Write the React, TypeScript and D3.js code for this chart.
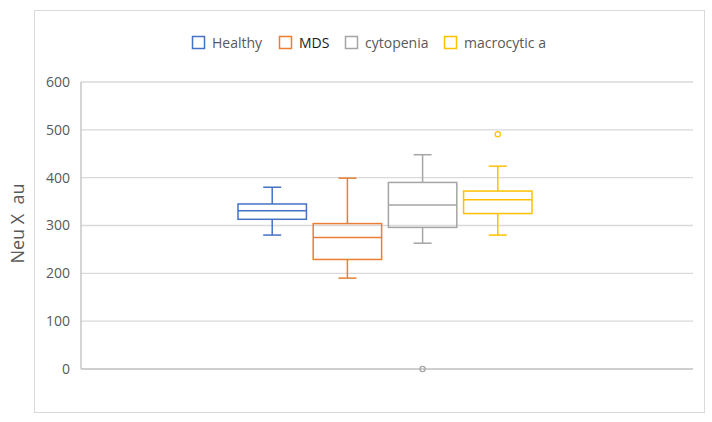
import React from "react";
import * as d3 from "d3";

const series = ["Healthy", "MDS", "cytopenia", "macrocytic a"];
const colors = ["#4472c4", "#ed7d31", "#a5a5a5", "#ffc000"];
const legendTextColors = ["#595959", "#1a1a1a", "#595959", "#595959"];
// [lower whisker, q1, median, q3, upper whisker]
const stats = [
  [280, 313, 331, 345, 380],
  [190, 229, 275, 304, 399],
  [263, 296, 343, 390, 448],
  [280, 325, 354, 372, 424],
];
const outliers = [[], [], [0], [491]];
const yTicks = [0, 100, 200, 300, 400, 500, 600];

const W = 712;
const H = 422;
const plot = { left: 81, right: 693, top: 82, bottom: 369 };
const font = "'Open Sans', 'Liberation Sans', sans-serif";

export default function App() {
  const y = d3.scaleLinear().domain([0, 600]).range([plot.bottom, plot.top]);
  const mid = (plot.left + plot.right) / 2 - 2;
  const x = d3
    .scaleBand<string>()
    .domain(series)
    .range([mid - 147, mid + 147])
    .paddingInner(0.09)
    .paddingOuter(0.0);
  const bw = x.bandwidth();
  const capW = 18;

  // legend square positions
  const legendX = [192, 279, 345, 444];

  return (
    <svg
      width={W}
      height={H}
      style={{ position: "absolute", left: 0, top: 0, background: "#fff" }}
    >
      <rect x={34.5} y={10.5} width={670} height={402} fill="#fff" stroke="#d9d9d9" />

      {yTicks.map((t) => (
        <g key={t}>
          <line
            x1={plot.left}
            x2={plot.right}
            y1={y(t)}
            y2={y(t)}
            stroke={t === 0 ? "#bfbfbf" : "#d9d9d9"}
            strokeWidth={1.3}
          />
          <text
            x={70}
            y={y(t)}
            dy="0.35em"
            textAnchor="end"
            fontFamily={font}
            fontSize={14}
            fill="#595959"
          >
            {t}
          </text>
        </g>
      ))}
      <line x1={plot.left} x2={plot.left} y1={plot.top} y2={plot.bottom} stroke="#bfbfbf" strokeWidth={1.3} />

      <text
        transform={`translate(24,${(plot.top + plot.bottom) / 2 - 2}) rotate(-90)`}
        textAnchor="middle"
        fontFamily={font}
        fontSize={18}
        fill="#595959"
        style={{ whiteSpace: "pre" }}
      >
        {"Neu X  au"}
      </text>

      {series.map((s, i) => {
        const [lo, q1, med, q3, hi] = stats[i];
        const x0 = x(s)!;
        const cx = x0 + bw / 2;
        const c = colors[i];
        return (
          <g key={s} stroke={c} strokeWidth={1.5} fill="none">
            <line x1={cx} x2={cx} y1={y(hi)} y2={y(q3)} />
            <line x1={cx} x2={cx} y1={y(q1)} y2={y(lo)} />
            <line x1={cx - capW / 2} x2={cx + capW / 2} y1={y(hi)} y2={y(hi)} />
            <line x1={cx - capW / 2} x2={cx + capW / 2} y1={y(lo)} y2={y(lo)} />
            <rect x={x0} y={y(q3)} width={bw} height={y(q1) - y(q3)} />
            <line x1={x0} x2={x0 + bw} y1={y(med)} y2={y(med)} />
            {outliers[i].map((o, j) => (
              <circle key={j} cx={cx} cy={y(o)} r={2.6} strokeWidth={1.2} />
            ))}
          </g>
        );
      })}

      {series.map((s, i) => (
        <g key={s}>
          <rect
            x={legendX[i] + 0.5}
            y={36.5}
            width={12}
            height={12}
            fill="#fff"
            stroke={colors[i]}
            strokeWidth={1.5}
          />
          <text
            x={legendX[i] + 20}
            y={43}
            dy="0.35em"
            fontFamily={font}
            fontSize={14}
            fill={legendTextColors[i]}
          >
            {s}
          </text>
        </g>
      ))}
    </svg>
  );
}
